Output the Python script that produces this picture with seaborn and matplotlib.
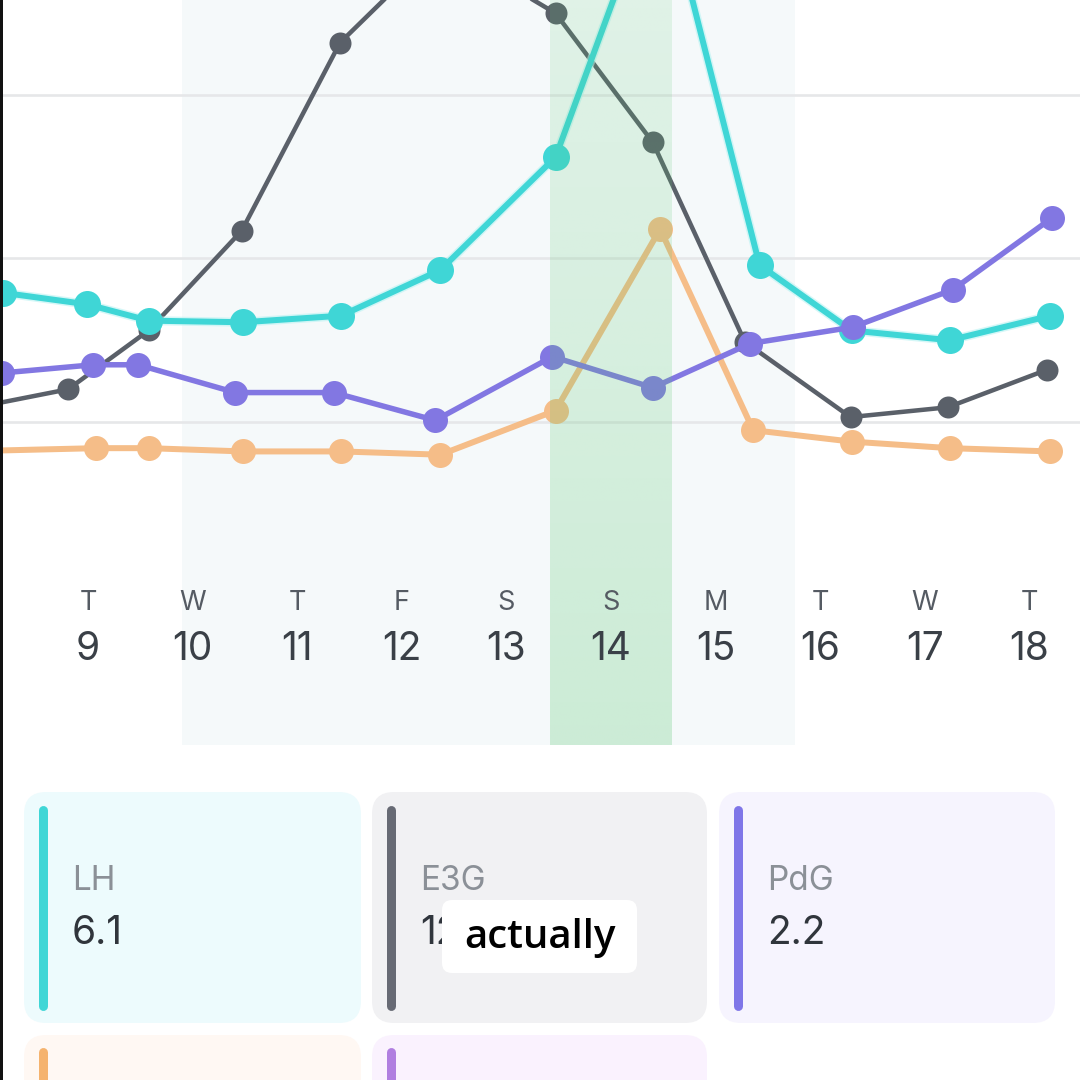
import numpy as np
import pandas as pd
import seaborn as sns
import matplotlib
matplotlib.use("Agg")
import matplotlib.pyplot as plt
from matplotlib.patches import FancyBboxPatch, Rectangle
from matplotlib.transforms import blended_transform_factory

sns.set_theme(style="white")
plt.rcParams['font.family'] = ['Inter', 'DejaVu Sans']

# ---------------- data ----------------
day_numbers = [9, 10, 11, 12, 13, 14, 15, 16, 17, 18]
weekday_letters = ["T", "W", "T", "F", "S", "S", "M", "T", "W", "T"]

lh_x = [8.19, 8.99, 9.58, 10.48, 11.42, 12.37, 13.47, 14.47, 15.42, 16.30, 17.24, 18.20]
lh_y = [1.79, 1.72, 1.62, 1.61, 1.65, 1.93, 2.62, 4.36, 1.96, 1.56, 1.50, 1.65]

e3g_x = [7.78, 8.81, 9.58, 10.47, 11.41, 12.37, 13.47, 14.40, 15.28, 16.29, 17.22, 18.17]
e3g_y = [1.07, 1.20, 1.56, 2.17, 3.32, 3.92, 3.50, 2.71, 1.49, 1.03, 1.09, 1.32]

pdg_x = [8.18, 9.05, 9.48, 10.41, 11.35, 12.32, 13.44, 14.40, 15.33, 16.31, 17.27, 18.22]
pdg_y = [1.30, 1.35, 1.35, 1.18, 1.18, 1.01, 1.40, 1.21, 1.48, 1.58, 1.81, 2.25]

fsh_x = [7.78, 9.08, 9.58, 10.48, 11.42, 12.37, 13.47, 14.47, 15.36, 16.30, 17.24, 18.20]
fsh_y = [0.82, 0.84, 0.84, 0.82, 0.82, 0.80, 1.07, 2.18, 0.95, 0.88, 0.84, 0.82]

grid_levels = [1, 2, 3]
window_span = [9.90, 15.76]     # light shaded window
peak_span = [13.42, 14.58]      # green peak day

card_labels = ["LH", "E3G", "PdG"]
card_values = ["6.1", "12", "2.2"]
caption_text = "actually"

# ---------------- styling ----------------
C_LH = "#3fd6d6"
C_E3G = "#5a6069"
C_PDG = "#8277e2"
C_FSH = "#f5bd88"

W, H = 1080, 1080
fig = plt.figure(figsize=(10.8, 10.8), dpi=100)
fig.patch.set_facecolor("white")

chart_bottom_px = 745
ax = fig.add_axes([0, 1 - chart_bottom_px / H, 1, chart_bottom_px / H])
ax.set_facecolor("white")

XMIN, XMAX = 8.159, 18.484
YMIN, YMAX = -0.9755, 3.581

# light window band
ax.axvspan(window_span[0], window_span[1], color="#f5f9fa", zorder=0, lw=0)

# gridlines
for g in grid_levels:
    ax.axhline(g, color="#e6e7e9", lw=1.9, zorder=1)

# series
px = 100 / 72.0
sns.lineplot(x=fsh_x, y=fsh_y, ax=ax, color=C_FSH, lw=6 / px, marker="o",
             markersize=25 / px, markeredgewidth=0, sort=False, zorder=2)
sns.lineplot(x=e3g_x, y=e3g_y, ax=ax, color=C_E3G, lw=4.5 / px, marker="o",
             markersize=22 / px, markeredgewidth=0, sort=False, zorder=3)
sns.lineplot(x=lh_x, y=lh_y, ax=ax, color="#b9f3f3", lw=9 / px, sort=False,
             zorder=3.5, alpha=0.6)
sns.lineplot(x=lh_x, y=lh_y, ax=ax, color=C_LH, lw=6 / px, marker="o",
             markersize=27 / px, markeredgewidth=0, sort=False, zorder=4)
sns.lineplot(x=pdg_x, y=pdg_y, ax=ax, color=C_PDG, lw=5.5 / px, marker="o",
             markersize=25 / px, markeredgewidth=0, sort=False, zorder=5)

# green peak band with vertical gradient, overlaid on lines
n = 256
alpha = np.linspace(0.14, 0.27, n)[:, None]
grad = np.zeros((n, 1, 4))
grad[..., 0] = 92 / 255
grad[..., 1] = 200 / 255
grad[..., 2] = 115 / 255
grad[..., 3] = alpha
ax.imshow(grad, extent=(peak_span[0], peak_span[1], YMIN, YMAX),
          aspect="auto", origin="upper", zorder=6, interpolation="bilinear")

ax.set_xlim(XMIN, XMAX)
ax.set_ylim(YMIN, YMAX)
ax.set_xticks([])
ax.set_yticks([])
ax.set_xlabel("")
ax.set_ylabel("")
for s in ax.spines.values():
    s.set_visible(False)

# day labels
tr = blended_transform_factory(ax.transData, ax.transAxes)
y_wd = 1 - 603 / chart_bottom_px
y_num = 1 - 650 / chart_bottom_px
for d, wd in zip(day_numbers, weekday_letters):
    ax.text(d, y_wd, wd, transform=tr, ha="center", va="center",
            fontsize=19.5, color="#555b63", zorder=7)
    ax.text(d, y_num, str(d), transform=tr, ha="center", va="center",
            fontsize=28, color="#3a4047", zorder=7)

# ---------------- cards (overlay in pixel coords) ----------------
ov = fig.add_axes([0, 0, 1, 1], zorder=10)
ov.set_xlim(0, W)
ov.set_ylim(0, H)
ov.axis("off")
ov.patch.set_alpha(0)


def card(x0, x1, ytop, ybot, fc):
    ov.add_patch(FancyBboxPatch((x0, H - ybot), x1 - x0, ybot - ytop,
                                boxstyle="round,pad=0,rounding_size=22",
                                fc=fc, ec="none"))


def bar(x, ytop, ybot, c):
    ov.plot([x, x], [H - ytop, H - ybot], color=c, lw=9 / px,
            solid_capstyle="round")


card_x = [(24, 361), (372, 707), (719, 1055)]
card_bg = ["#edfbfd", "#f1f1f3", "#f6f4fe"]
card_bar = [C_LH, "#676a74", "#7f76e8"]
for (x0, x1), bg, bc, lab, val in zip(card_x, card_bg, card_bar,
                                      card_labels, card_values):
    card(x0, x1, 792, 1023, bg)
    bar(x0 + 19, 810, 1006, bc)
    ov.text(x0 + 48, H - 881, lab, fontsize=24, color="#8b9097",
            ha="left", va="center")
    ov.text(x0 + 48, H - 934, val, fontsize=28, color="#30353c",
            ha="left", va="center")

# second row (partially visible)
card(24, 361, 1035, 1120, "#fff8f3")
bar(43, 1052, 1100, "#f5b36e")
card(372, 707, 1035, 1120, "#faf2fe")
bar(391, 1052, 1100, "#b07fe0")

# caption box
ov.add_patch(FancyBboxPatch((442, H - 973), 195, 73,
                            boxstyle="round,pad=0,rounding_size=10",
                            fc="white", ec="none", zorder=12))
ov.text(540, H - 938, caption_text, fontsize=29, color="black",
        ha="center", va="center", zorder=13, family=["Open Sans", "DejaVu Sans"],
        fontweight="semibold")

# dark left edge
ov.add_patch(Rectangle((0, 0), 2.5, H, fc="#111111", ec="none", zorder=14))

fig.savefig("out.png", dpi=100, facecolor="white")
